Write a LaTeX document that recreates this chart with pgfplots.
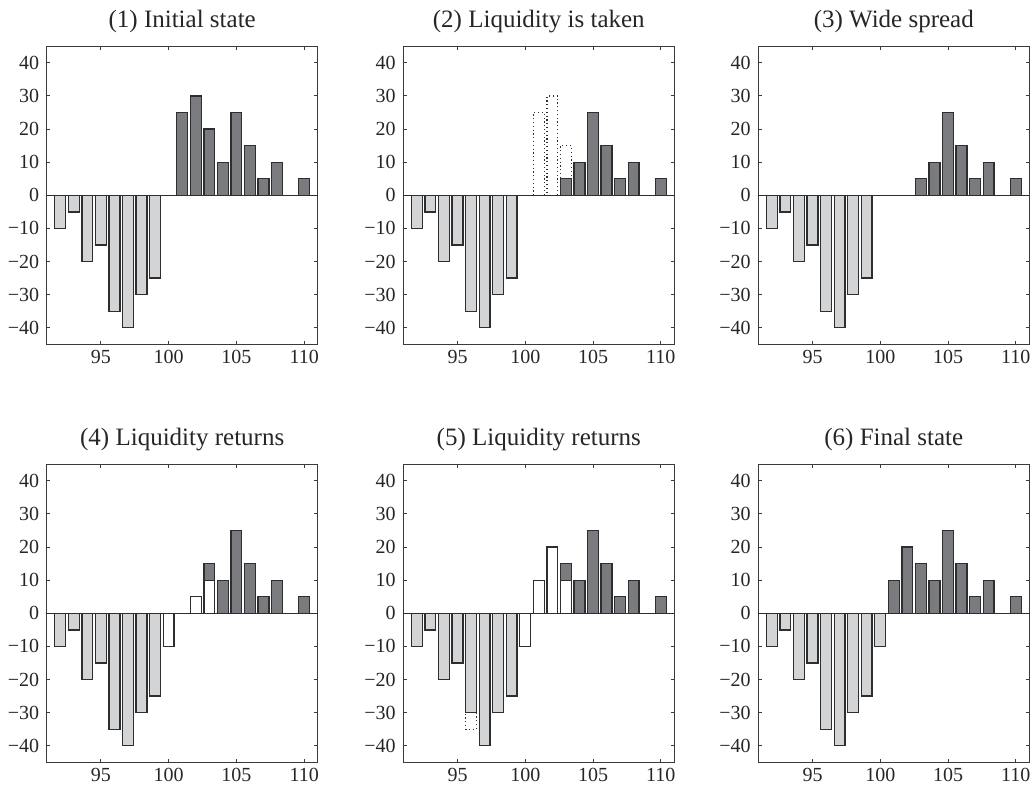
\documentclass[border=0pt]{standalone}
\usepackage{fontspec}
\setmainfont{Liberation Serif}
\usepackage{pgfplots}
\pgfplotsset{compat=1.18}

\definecolor{bidc}{HTML}{D3D4D6}
\definecolor{askc}{HTML}{7A7B7F}
\definecolor{edgec}{HTML}{2E2E2E}
\definecolor{axisc}{HTML}{3A3A3A}

\pgfplotsset{
  panel/.style={
    scale only axis, width=135.5pt, height=149pt,
    anchor=south west,
    xmin=91, xmax=111, ymin=-45, ymax=45,
    xtick={95,100,105,110},
    ytick={-40,-30,-20,-10,0,10,20,30,40},
    yticklabels={−40,−30,−20,−10,0,10,20,30,40},
    /pgf/number format/assume math mode=true,
    tick align=inside, major tick length=1.8pt,
    axis line style={line width=0.55pt, draw=axisc},
    every tick/.style={line width=0.5pt, draw=axisc},
    ticklabel style={font=\fontsize{10}{11}\selectfont, text=black!85},
    yticklabel style={xshift=-0.3pt},
    xticklabel style={yshift=0.4pt},
    title style={font=\fontsize{12.5}{14}\selectfont, text=black!85,
                 at={(0.5,1)}, anchor=base, yshift=3.3pt},
    clip=false,
  },
  bar/.style={ybar, bar width=0.8, bar shift=0pt, draw=edgec, line width=0.65pt},
  bid/.style={bar, fill=bidc},
  ask/.style={bar, fill=askc},
  fresh/.style={bar, fill=white},
  taken/.style={bar, fill=none, line width=0.6pt, dash pattern=on 0.6pt off 1.3pt},
  zeroline/.style={edgec, line width=0.6pt, mark=none},
}

\begin{document}
\begin{tikzpicture}
\path[use as bounding box] (0,0) rectangle (518pt,393pt);

% (1) Initial state
\begin{axis}[panel, at={(23.35pt,220.85pt)}, title={(1) Initial state}]
  \addplot[bid] coordinates {(92,-10)(93,-5)(94,-20)(95,-15)(96,-35)(97,-40)(98,-30)(99,-25)};
  \addplot[ask] coordinates {(100,0)(101,25)(102,30)(103,20)(104,10)(105,25)(106,15)(107,5)(108,10)(109,0)(110,5)};
  \addplot[zeroline] coordinates {(91,0)(111,0)};
\end{axis}

% (2) Liquidity is taken
\begin{axis}[panel, at={(201.65pt,220.85pt)}, title={(2) Liquidity is taken}]
  \addplot[taken] coordinates {(101,25)(102,30)(103,15)};
  \addplot[bid] coordinates {(92,-10)(93,-5)(94,-20)(95,-15)(96,-35)(97,-40)(98,-30)(99,-25)};
  \addplot[ask] coordinates {(100,0)(103,5)(104,10)(105,25)(106,15)(107,5)(108,10)(109,0)(110,5)};
  \addplot[zeroline] coordinates {(91,0)(111,0)};
\end{axis}

% (3) Wide spread
\begin{axis}[panel, at={(379.15pt,220.85pt)}, title={(3) Wide spread}]
  \addplot[bid] coordinates {(92,-10)(93,-5)(94,-20)(95,-15)(96,-35)(97,-40)(98,-30)(99,-25)};
  \addplot[ask] coordinates {(100,0)(101,0)(102,0)(103,5)(104,10)(105,25)(106,15)(107,5)(108,10)(109,0)(110,5)};
  \addplot[zeroline] coordinates {(91,0)(111,0)};
\end{axis}

% (4) Liquidity returns
\begin{axis}[panel, at={(23.35pt,11.85pt)}, title={(4) Liquidity returns}]
  \addplot[bid] coordinates {(92,-10)(93,-5)(94,-20)(95,-15)(96,-35)(97,-40)(98,-30)(99,-25)};
  \addplot[ask] coordinates {(101,0)(103,15)(104,10)(105,25)(106,15)(107,5)(108,10)(109,0)(110,5)};
  \addplot[fresh] coordinates {(100,-10)(102,5)(103,10)};
  \addplot[zeroline] coordinates {(91,0)(111,0)};
\end{axis}

% (5) Liquidity returns
\begin{axis}[panel, at={(201.65pt,11.85pt)}, title={(5) Liquidity returns}]
  \addplot[taken] coordinates {(96,-35)};
  \addplot[bid] coordinates {(92,-10)(93,-5)(94,-20)(95,-15)(96,-30)(97,-40)(98,-30)(99,-25)};
  \addplot[ask] coordinates {(103,15)(104,10)(105,25)(106,15)(107,5)(108,10)(109,0)(110,5)};
  \addplot[fresh] coordinates {(100,-10)(101,10)(102,20)(103,10)};
  \addplot[zeroline] coordinates {(91,0)(111,0)};
\end{axis}

% (6) Final state
\begin{axis}[panel, at={(379.15pt,11.85pt)}, title={(6) Final state}]
  \addplot[bid] coordinates {(92,-10)(93,-5)(94,-20)(95,-15)(96,-35)(97,-40)(98,-30)(99,-25)(100,-10)};
  \addplot[ask] coordinates {(101,10)(102,20)(103,15)(104,10)(105,25)(106,15)(107,5)(108,10)(109,0)(110,5)};
  \addplot[zeroline] coordinates {(91,0)(111,0)};
\end{axis}
\end{tikzpicture}
\end{document}
